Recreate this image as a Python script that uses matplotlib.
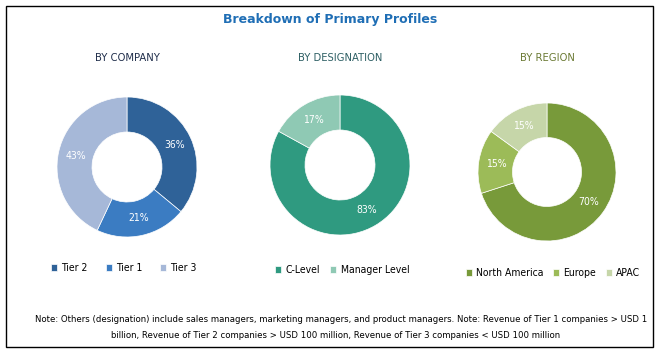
import matplotlib.pyplot as plt
from matplotlib.patches import Rectangle

# data
company_labels = ['Tier 2', 'Tier 1', 'Tier 3']
company_values = [36, 21, 43]
desig_labels = ['C-Level', 'Manager Level']
desig_values = [83, 17]
region_labels = ['North America', 'Europe', 'APAC']
region_values = [70, 15, 15]

company_colors = ['#2F6298', '#3B7CC2', '#A6B8D8']
desig_colors = ['#2F9A80', '#8FC9B4']
region_colors = ['#789A3A', '#9CBB58', '#C6D6A9']

W, H = 661, 355
fig = plt.figure(figsize=(W / 100, H / 100), dpi=100)
fig.patches.append(Rectangle((6 / W, 8 / H), 647 / W, 341 / H, transform=fig.transFigure,
                             fill=False, edgecolor='black', linewidth=1))

fig.text(330 / W, 1 - 19 / H, 'Breakdown of Primary Profiles', ha='center', va='center',
         fontsize=9, fontweight='bold', color='#1F6EB5')

fnt = dict(family='DejaVu Sans', stretch='condensed')


def donut(cx, cy, r, values, colors, title, tcol, labels, legy, legx, colsp):
    ax = fig.add_axes([(cx - r) / W, 1 - (cy + r) / H, 2 * r / W, 2 * r / H])
    wedges, _, autotexts = ax.pie(values, colors=colors, startangle=90, counterclock=False,
                                  radius=1, autopct='%d%%', pctdistance=0.75,
                                  wedgeprops=dict(width=0.5, edgecolor='white', linewidth=0.5),
                                  textprops=dict(color='white', fontsize=7.5, **fnt))
    ax.set_xlim(-1, 1)
    ax.set_ylim(-1, 1)
    ax.set_aspect('equal')
    fig.text(cx / W, 1 - 58 / H, title, ha='center', va='center', fontsize=8,
             color=tcol, **fnt)
    fig.legend(wedges, labels, loc='center', bbox_to_anchor=(legx / W, 1 - legy / H),
               ncol=len(labels), frameon=False, handlelength=0.6, handleheight=0.6,
               handletextpad=0.4, columnspacing=colsp,
               prop=dict(size=7.5, **fnt))
    return ax


donut(127, 167, 70, company_values, company_colors, 'BY COMPANY', '#1F2D4A',
      company_labels, 268, 124, 1.7)
donut(340, 165, 70, desig_values, desig_colors, 'BY DESIGNATION', '#2C5E63',
      desig_labels, 270, 342, 1.0)
donut(547, 172, 69, region_values, region_colors, 'BY REGION', '#6B7A34',
      region_labels, 273, 553, 0.9)

fig.text(341 / W, 1 - 320 / H,
         'Note: Others (designation) include sales managers, marketing managers, and product managers. '
         'Note: Revenue of Tier 1 companies > USD 1',
         ha='center', va='center', fontsize=6.8, **fnt)
fig.text(336 / W, 1 - 336 / H,
         'billion, Revenue of Tier 2 companies > USD 100 million, Revenue of Tier 3 companies < USD 100 million',
         ha='center', va='center', fontsize=6.8, **fnt)

fig.savefig('out.png', dpi=100)
